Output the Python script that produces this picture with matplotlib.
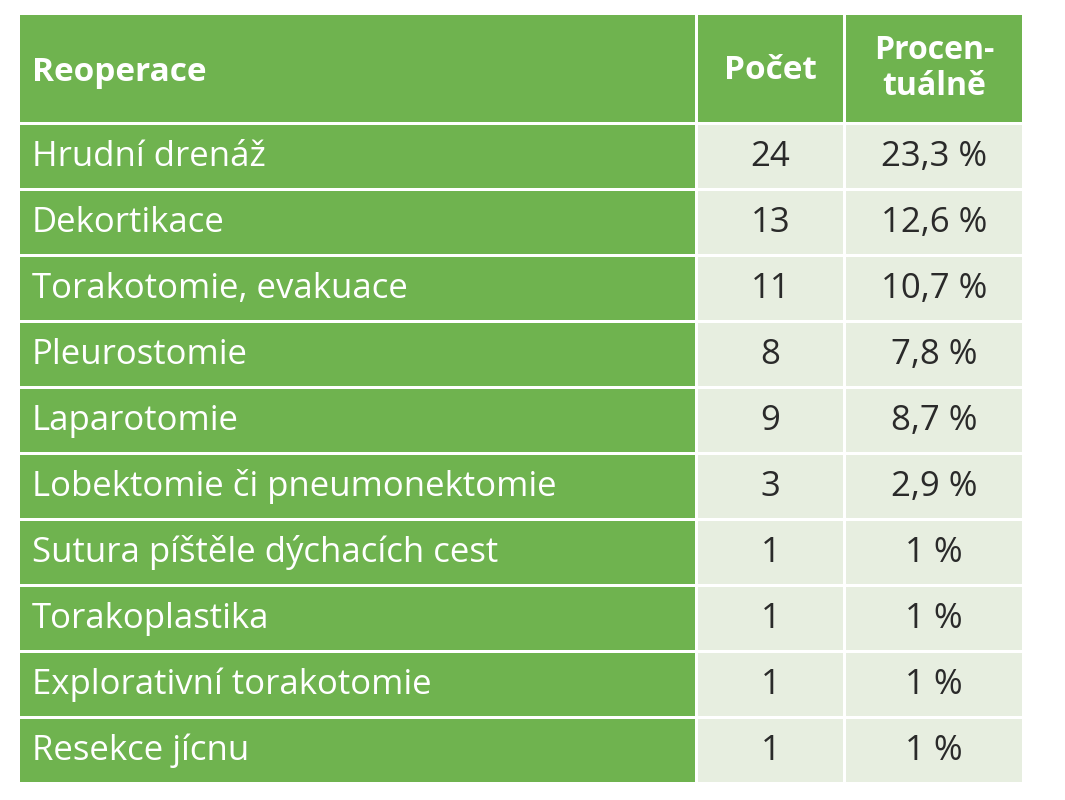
import matplotlib.pyplot as plt
from matplotlib.patches import Rectangle

headers = ["Reoperace", "Počet", "Procen-\ntuálně"]
names = ["Hrudní drenáž", "Dekortikace", "Torakotomie, evakuace", "Pleurostomie",
         "Laparotomie", "Lobektomie či pneumonektomie", "Sutura píštěle dýchacích cest",
         "Torakoplastika", "Explorativní torakotomie", "Resekce jícnu"]
counts = [24, 13, 11, 8, 9, 3, 1, 1, 1, 1]
percents = ["23,3 %", "12,6 %", "10,7 %", "7,8 %", "8,7 %", "2,9 %", "1 %", "1 %", "1 %", "1 %"]

green = "#6fb34f"
light = "#e7eee0"
text_dark = "#2a2a2a"

fig = plt.figure(figsize=(10.65, 8), dpi=100)
ax = fig.add_axes([0, 0, 1, 1])
ax.set_xlim(0, 1065)
ax.set_ylim(800, 0)
ax.axis("off")

cols = [(20, 695), (698, 843), (846, 1022)]
gap = 3
head_top, head_bot = 15, 125
row_h = (785 - head_bot) / len(names)
font = "Open Sans"
fs = 25

# header
for i, (x0, x1) in enumerate(cols):
    ax.add_patch(Rectangle((x0, head_top), x1 - x0, head_bot - head_top - gap, color=green, lw=0))
ymid = (head_top + head_bot - gap) / 2 + 4
ax.text(32, ymid, headers[0], color="white", fontsize=24, fontweight="bold", family=font, va="center")
ax.text(sum(cols[1]) / 2, ymid - 2, headers[1], color="white", fontsize=24, fontweight="bold", family=font,
        va="center", ha="center")
ax.text(sum(cols[2]) / 2, ymid - 4, headers[2], color="white", fontsize=23, fontweight="bold", family=font,
        va="center", ha="center", linespacing=1.1)

for r, (n, c, p) in enumerate(zip(names, counts, percents)):
    y0 = head_bot + r * row_h
    h = row_h - gap
    ax.add_patch(Rectangle((cols[0][0], y0), cols[0][1] - cols[0][0], h, color=green, lw=0))
    ax.add_patch(Rectangle((cols[1][0], y0), cols[1][1] - cols[1][0], h, color=light, lw=0))
    ax.add_patch(Rectangle((cols[2][0], y0), cols[2][1] - cols[2][0], h, color=light, lw=0))
    ym = y0 + h / 2
    ax.text(32, ym, n, color="white", fontsize=fs, family=font, va="center")
    ax.text(sum(cols[1]) / 2, ym, str(c), color=text_dark, fontsize=fs, family=font, va="center", ha="center")
    ax.text(sum(cols[2]) / 2, ym, p, color=text_dark, fontsize=fs, family=font, va="center", ha="center")

fig.savefig("out.png", dpi=100, facecolor="white")
